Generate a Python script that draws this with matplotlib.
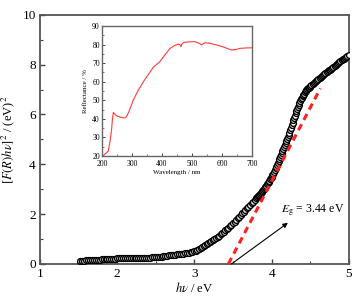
import matplotlib
matplotlib.use("Agg")
import matplotlib.pyplot as plt
from matplotlib.ticker import MultipleLocator

plt.rcParams["font.family"] = ["Liberation Serif", "DejaVu Serif"]
plt.rcParams["mathtext.fontset"] = "stix"

# Tauc plot data
hv = [1.525, 1.55, 1.575, 1.60, 1.625, 1.65, 1.675, 1.70, 1.725, 1.75, 1.775,
      1.80, 1.825, 1.85, 1.875, 1.90, 1.925, 1.95, 1.975, 2.00, 2.025, 2.05,
      2.075, 2.10, 2.125, 2.15, 2.175, 2.20, 2.225, 2.25, 2.275, 2.30, 2.325,
      2.35, 2.375, 2.40, 2.425, 2.45, 2.475, 2.50, 2.525, 2.55, 2.575, 2.60,
      2.625, 2.65, 2.675, 2.70, 2.725, 2.75, 2.775, 2.80, 2.825, 2.85, 2.875,
      2.90, 2.925, 2.95, 2.975, 3.00,
      3.02, 3.04, 3.06, 3.08, 3.10, 3.12, 3.14, 3.16, 3.18, 3.20, 3.22, 3.24,
      3.26, 3.28, 3.30, 3.32, 3.34, 3.36, 3.38, 3.40, 3.42, 3.44, 3.46, 3.48,
      3.50, 3.52, 3.54, 3.56, 3.58, 3.60, 3.62, 3.64, 3.66, 3.68, 3.70, 3.72,
      3.74, 3.76, 3.78, 3.80,
      3.81, 3.82, 3.83, 3.84, 3.85, 3.86, 3.87, 3.88, 3.89, 3.90, 3.91, 3.92,
      3.93, 3.94, 3.95, 3.96, 3.97, 3.98, 3.99, 4.00, 4.01, 4.02, 4.03, 4.04,
      4.05, 4.06, 4.07, 4.08, 4.09, 4.10, 4.11, 4.12, 4.13, 4.14, 4.15, 4.16,
      4.17, 4.18, 4.19, 4.20, 4.21, 4.22, 4.23, 4.24, 4.25, 4.26, 4.27, 4.28,
      4.29, 4.30, 4.31, 4.32, 4.33, 4.34, 4.35, 4.36, 4.37, 4.38, 4.39, 4.40,
      4.41, 4.42, 4.43, 4.44, 4.45, 4.46, 4.47, 4.48, 4.49, 4.50,
      4.515, 4.53, 4.545, 4.56, 4.575, 4.59, 4.605, 4.62, 4.635, 4.65, 4.665,
      4.68, 4.695, 4.71, 4.725, 4.74, 4.755, 4.77, 4.785, 4.80, 4.815, 4.83,
      4.845, 4.86, 4.875, 4.89, 4.905, 4.92, 4.935, 4.95, 4.965, 4.98, 4.995]
fr = [0.10, 0.12, 0.13, 0.14, 0.145, 0.15, 0.155, 0.16, 0.165, 0.17, 0.175,
      0.18, 0.185, 0.19, 0.195, 0.20, 0.205, 0.21, 0.215, 0.22, 0.22, 0.22,
      0.22, 0.22, 0.22, 0.22, 0.22, 0.22, 0.225, 0.23, 0.235, 0.24, 0.245,
      0.25, 0.25, 0.25, 0.255, 0.26, 0.265, 0.27, 0.275, 0.28, 0.295, 0.31,
      0.32, 0.33, 0.345, 0.36, 0.365, 0.37, 0.38, 0.39, 0.40, 0.41, 0.425,
      0.44, 0.455, 0.47, 0.49, 0.51,
      0.535, 0.56, 0.59, 0.62, 0.66, 0.70, 0.74, 0.78, 0.825, 0.87, 0.915, 0.96,
      1.005, 1.05, 1.095, 1.14, 1.19, 1.24, 1.295, 1.35, 1.405, 1.46, 1.52, 1.58,
      1.64, 1.70, 1.765, 1.83, 1.895, 1.96, 2.025, 2.09, 2.16, 2.23, 2.30, 2.37,
      2.435, 2.50, 2.57, 2.64,
      2.675, 2.71, 2.745, 2.78, 2.82, 2.86, 2.895, 2.93, 2.97, 3.01, 3.055, 3.10,
      3.145, 3.19, 3.24, 3.29, 3.34, 3.39, 3.445, 3.50, 3.565, 3.63, 3.70, 3.77,
      3.84, 3.91, 3.98, 4.05, 4.125, 4.20, 4.28, 4.36, 4.44, 4.52, 4.60, 4.68,
      4.76, 4.84, 4.92, 5.00, 5.09, 5.18, 5.275, 5.37, 5.465, 5.56, 5.66, 5.76,
      5.855, 5.95, 6.045, 6.14, 6.23, 6.32, 6.40, 6.48, 6.55, 6.62, 6.68, 6.74,
      6.79, 6.84, 6.885, 6.93, 6.97, 7.01, 7.045, 7.08, 7.11, 7.14,
      7.18, 7.23, 7.27, 7.31, 7.35, 7.39, 7.43, 7.47, 7.51, 7.55, 7.585,
      7.62, 7.66, 7.70, 7.735, 7.77, 7.805, 7.84, 7.875, 7.91, 7.95, 7.99,
      8.025, 8.06, 8.095, 8.13, 8.17, 8.21, 8.245, 8.28, 8.315, 8.35, 8.39]

# linear extrapolation to the band gap
fit_x = [3.44, 4.63]
fit_y = [0.0, 7.05]
eg = 3.44

# inset reflectance spectrum
wl = [202, 210, 221, 226, 232, 235, 238, 243, 248, 254, 262, 271, 277, 282,
      290, 304, 321, 340, 372, 393, 410, 427, 440, 454, 460, 463, 467, 473,
      490, 510, 523, 532, 537, 543, 560, 582, 600, 620, 632, 645, 660, 680, 699]
refl = [20.0, 21.0, 22.7, 27.0, 34.0, 40.0, 43.5, 42.5, 41.8, 41.3, 40.9,
        40.6, 40.5, 41.3, 44.0, 50.0, 55.5, 60.5, 68.0, 70.8, 74.5, 78.0,
        79.4, 80.3, 80.0, 78.9, 80.5, 81.2, 81.5, 81.6, 80.8, 79.8, 80.5,
        81.0, 80.7, 79.8, 79.0, 77.8, 77.1, 77.3, 78.0, 78.2, 78.3]

fig = plt.figure(figsize=(3.59, 3.03), dpi=100)
ax = fig.add_axes([0.111, 0.129, 0.861, 0.822])

ax.plot(hv, fr, ls="none", marker="o", ms=4.2, mfc="white", mec="black",
        mew=1.0, zorder=3)
ax.plot(fit_x, fit_y, color="#ff2020", lw=2.2, ls=(0, (2.2, 1.6)), zorder=4)
ax.annotate("", xy=(4.21, 1.65), xytext=(3.48, 0.0),
            arrowprops=dict(arrowstyle="-|>", color="black", lw=0.8,
                            mutation_scale=7, shrinkA=0, shrinkB=0))
ax.text(4.12, 2.15, r"$E_{\rm g}$ = %.2f eV" % eg, fontsize=8.5, va="center")

ax.set_xlim(1, 5)
ax.set_ylim(0, 10)
ax.xaxis.set_major_locator(MultipleLocator(1))
ax.xaxis.set_minor_locator(MultipleLocator(0.5))
ax.yaxis.set_major_locator(MultipleLocator(2))
ax.yaxis.set_minor_locator(MultipleLocator(1))
ax.tick_params(which="both", direction="in", labelsize=9.5, pad=3,
               colors="#444444", labelcolor="black")
ax.tick_params(which="major", length=3.5, width=1)
ax.tick_params(which="minor", length=2, width=0.8)
for s in ax.spines.values():
    s.set_color("#555555")
    s.set_linewidth(1.3)
ax.set_xlabel(r"$h\nu$ / eV", fontsize=9, labelpad=1)
ax.set_ylabel(r"$[F(R)h\nu]^2$ / (eV)$^2$", fontsize=9, labelpad=4)

# inset
axi = fig.add_axes([0.284, 0.485, 0.418, 0.429])
axi.plot(wl, refl, color="#ff3b3b", lw=0.8)
axi.set_xlim(200, 700)
axi.set_ylim(20, 90)
axi.xaxis.set_major_locator(MultipleLocator(100))
axi.xaxis.set_minor_locator(MultipleLocator(50))
axi.yaxis.set_major_locator(MultipleLocator(10))
axi.yaxis.set_minor_locator(MultipleLocator(5))
axi.tick_params(which="both", direction="in", labelsize=5.5,
                colors="#444444", labelcolor="black")
axi.tick_params(axis="x", pad=2.5)
axi.tick_params(axis="y", pad=1.5)
axi.tick_params(which="major", length=2.2, width=0.7)
axi.tick_params(which="minor", length=1.2, width=0.5)
for s in axi.spines.values():
    s.set_color("#666666")
    s.set_linewidth(1.0)
axi.set_xlabel("Wavelength / nm", fontsize=5, labelpad=1.5)
axi.set_ylabel("Reflectance / %", fontsize=5, labelpad=3)

fig.savefig("out.png", dpi=100)
